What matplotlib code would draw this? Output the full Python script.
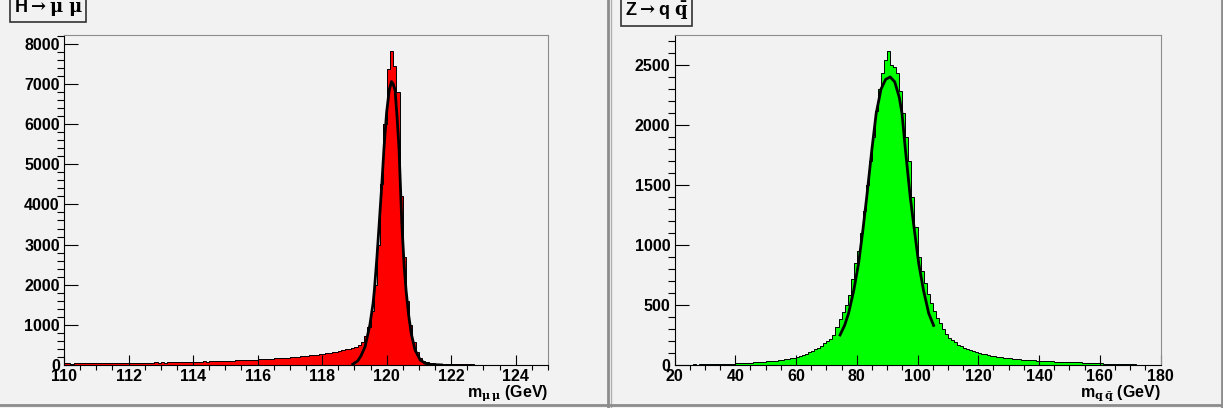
import numpy as np
import matplotlib
matplotlib.use("Agg")
import matplotlib.pyplot as plt
from matplotlib.lines import Line2D
from matplotlib.ticker import MultipleLocator

# H -> mu mu : 0.1 GeV bins from 110 to 125
h_edges = np.linspace(110, 125, 151)
h_counts = [
    38, 42, 35, 40, 44, 39, 41, 45, 43, 40,
    46, 42, 48, 44, 50, 47, 45, 52, 49, 51,
    55, 58, 53, 60, 57, 62, 59, 56, 63, 61,
    64, 60, 67, 70, 65, 72, 69, 74, 71, 76,
    80, 84, 82, 88, 86, 91, 89, 95, 93, 99,
    104, 108, 106, 113, 117, 114, 122, 126, 130, 135,
    140, 146, 143, 152, 158, 164, 162, 171, 178, 185,
    192, 199, 206, 213, 221, 229, 238, 247, 257, 268,
    280, 292, 305, 318, 333, 350, 368, 388, 410, 430,
    460, 500, 580, 720, 950, 1350, 2000, 3000, 4500, 6000,
    7380, 7830, 7450, 6800, 4200, 2700, 1600, 1000, 580, 330,
    170, 100, 70, 50, 40, 32, 28, 24, 22, 20,
    18, 17, 16, 15, 14, 13, 13, 12, 11, 11,
    10, 10, 9, 9, 8, 8, 8, 7, 7, 7,
    6, 6, 6, 5, 5, 5, 5, 4, 4, 4,
]
h_fit_x = [118.95, 119.1, 119.2, 119.33, 119.48, 119.58, 119.62, 119.7, 119.77,
           119.85, 119.92, 120.0, 120.08, 120.15, 120.2, 120.26, 120.32, 120.38,
           120.47, 120.54, 120.6, 120.68, 120.76, 120.88, 121.04, 121.2, 121.4, 121.7]
h_fit_y = [20, 100, 220, 455, 1000, 1540, 1870, 2700, 3530, 4500, 5440, 6300,
           6850, 7060, 7000, 6850, 6200, 5440, 3530, 2500, 1870, 1250, 790, 375,
           125, 40, 10, 2]

# Z -> q qbar : 1 GeV bins from 20 to 180
z_edges = np.linspace(20, 180, 161)
z_counts = [
    3, 2, 4, 3, 3, 4, 5, 4, 5, 6,
    6, 5, 7, 8, 7, 9, 10, 9, 11, 12,
    14, 13, 16, 15, 18, 20, 22, 25, 27, 26,
    30, 33, 31, 36, 40, 42, 47, 52, 55, 61,
    68, 76, 85, 95, 105, 118, 130, 145, 160, 180,
    200, 220, 250, 320, 380, 440, 500, 580, 720, 850,
    950, 1100, 1280, 1500, 1700, 1900, 2120, 2300, 2430, 2540,
    2620, 2500, 2480, 2430, 2280, 2100, 1900, 1700, 1400, 1150,
    900, 780, 680, 590, 520, 450, 390, 350, 300, 255,
    225, 210, 190, 170, 155, 145, 135, 125, 115, 108,
    100, 92, 88, 82, 78, 72, 70, 65, 60, 58,
    55, 52, 50, 46, 45, 42, 40, 41, 38, 36,
    35, 33, 36, 31, 30, 28, 29, 26, 25, 24,
    24, 22, 21, 22, 20, 18, 19, 17, 16, 15,
    14, 12, 11, 10, 9, 8, 8, 7, 6, 6,
    5, 5, 4, 4, 4, 3, 3, 3, 2, 2,
]
z_fit_x = [74.5, 76, 77.3, 79, 80.6, 82, 83.3, 85, 86.4, 88, 89.5, 91, 92.5, 94,
           94.9, 96, 97.6, 99, 100.4, 102, 103.7, 105.3]
z_fit_y = [250, 330, 430, 620, 847, 1120, 1403, 1800, 2097, 2300, 2380, 2400,
           2360, 2230, 2097, 1800, 1403, 1120, 847, 620, 430, 330]

BG = "#f2f2f2"
plt.rcParams["font.family"] = ["Liberation Sans", "DejaVu Sans"]
plt.rcParams["font.weight"] = "bold"
plt.rcParams["mathtext.fontset"] = "dejavuserif"

W, H = 1223, 408
fig = plt.figure(figsize=(W / 100, H / 100), dpi=100, facecolor=BG)


def make_axes(x0, x1, y0, y1):
    ax = fig.add_axes([x0 / W, 1 - y1 / H, (x1 - x0) / W, (y1 - y0) / H], facecolor=BG)
    ax.spines["top"].set_color("#8c8c8c")
    ax.spines["right"].set_color("#8c8c8c")
    ax.spines["left"].set_color("black")
    ax.spines["bottom"].set_color("black")
    ax.tick_params(top=False, right=False, direction="in", labelsize=11.5, pad=3)
    ax.tick_params(axis="y", which="major", length=10, width=0.8)
    ax.tick_params(axis="y", which="minor", length=5, width=0.8)
    ax.tick_params(axis="x", which="major", length=7, width=0.8)
    ax.tick_params(axis="x", which="minor", length=3.5, width=0.8)
    return ax


# left pad
ax1 = make_axes(64, 548, 35, 365)
ax1.stairs(h_counts, h_edges, fill=True, color="#ff0000", lw=0)
ax1.stairs(h_counts, h_edges, color="black", lw=0.7)
ax1.plot(h_fit_x, h_fit_y, color="black", lw=2)
ax1.set_xlim(110, 125)
ax1.set_ylim(0, 8220)
ax1.xaxis.set_major_locator(MultipleLocator(2))
ax1.xaxis.set_minor_locator(MultipleLocator(0.5))
ax1.yaxis.set_major_locator(MultipleLocator(1000))
ax1.yaxis.set_minor_locator(MultipleLocator(200))
ax1.set_xlabel(r"m$_{\mathrm{\mu\,\mu}}$ (GeV)", fontsize=11.5, fontweight="bold",
               va="center")
ax1.xaxis.set_label_coords(1.0, -0.085)
ax1.xaxis.label.set_horizontalalignment("right")

# right pad
ax2 = make_axes(674.5, 1160.5, 35, 365)
ax2.stairs(z_counts, z_edges, fill=True, color="#00ff00", lw=0)
ax2.stairs(z_counts, z_edges, color="black", lw=0.7)
ax2.plot(z_fit_x, z_fit_y, color="black", lw=2)
ax2.set_xlim(20, 180)
ax2.set_ylim(0, 2750)
ax2.xaxis.set_major_locator(MultipleLocator(20))
ax2.xaxis.set_minor_locator(MultipleLocator(5))
ax2.yaxis.set_major_locator(MultipleLocator(500))
ax2.yaxis.set_minor_locator(MultipleLocator(100))
ax2.set_xlabel(r"m$_{\mathbf{q\,\bar{q}}}$ (GeV)", fontsize=11.5, fontweight="bold",
               va="center")
ax2.xaxis.set_label_coords(1.0, -0.085)
ax2.xaxis.label.set_horizontalalignment("right")

for ax in (ax1, ax2):
    for lab in ax.get_xticklabels() + ax.get_yticklabels():
        lab.set_fontweight("bold")

# titles in boxes
box = dict(boxstyle="square,pad=0.2", facecolor=BG, edgecolor="#333333", lw=1.2)
fig.text(14 / W, 1 - 8 / H, r"H$\rightarrow\mathrm{\mu\;\mu}$", fontsize=13,
         fontweight="bold", ha="left", va="center", bbox=box)
fig.text(625 / W, 1 - 11 / H, r"Z$\rightarrow$q $\bar{\mathbf{q}}$", fontsize=13,
         fontweight="bold", ha="left", va="center", bbox=box)

# pad borders
fig.add_artist(Line2D([607.5 / W, 607.5 / W], [0, 1], transform=fig.transFigure,
                      color="#8c8c8c", lw=2))
fig.add_artist(Line2D([611 / W, 611 / W], [0, 1], transform=fig.transFigure,
                      color="#b0b0b0", lw=1))
fig.add_artist(Line2D([0, 1], [3 / H, 3 / H], transform=fig.transFigure,
                      color="#8c8c8c", lw=2))
fig.add_artist(Line2D([1221.5 / W, 1221.5 / W], [0, 1], transform=fig.transFigure,
                      color="#8c8c8c", lw=2))

fig.savefig("out.png", dpi=100, facecolor=BG)
